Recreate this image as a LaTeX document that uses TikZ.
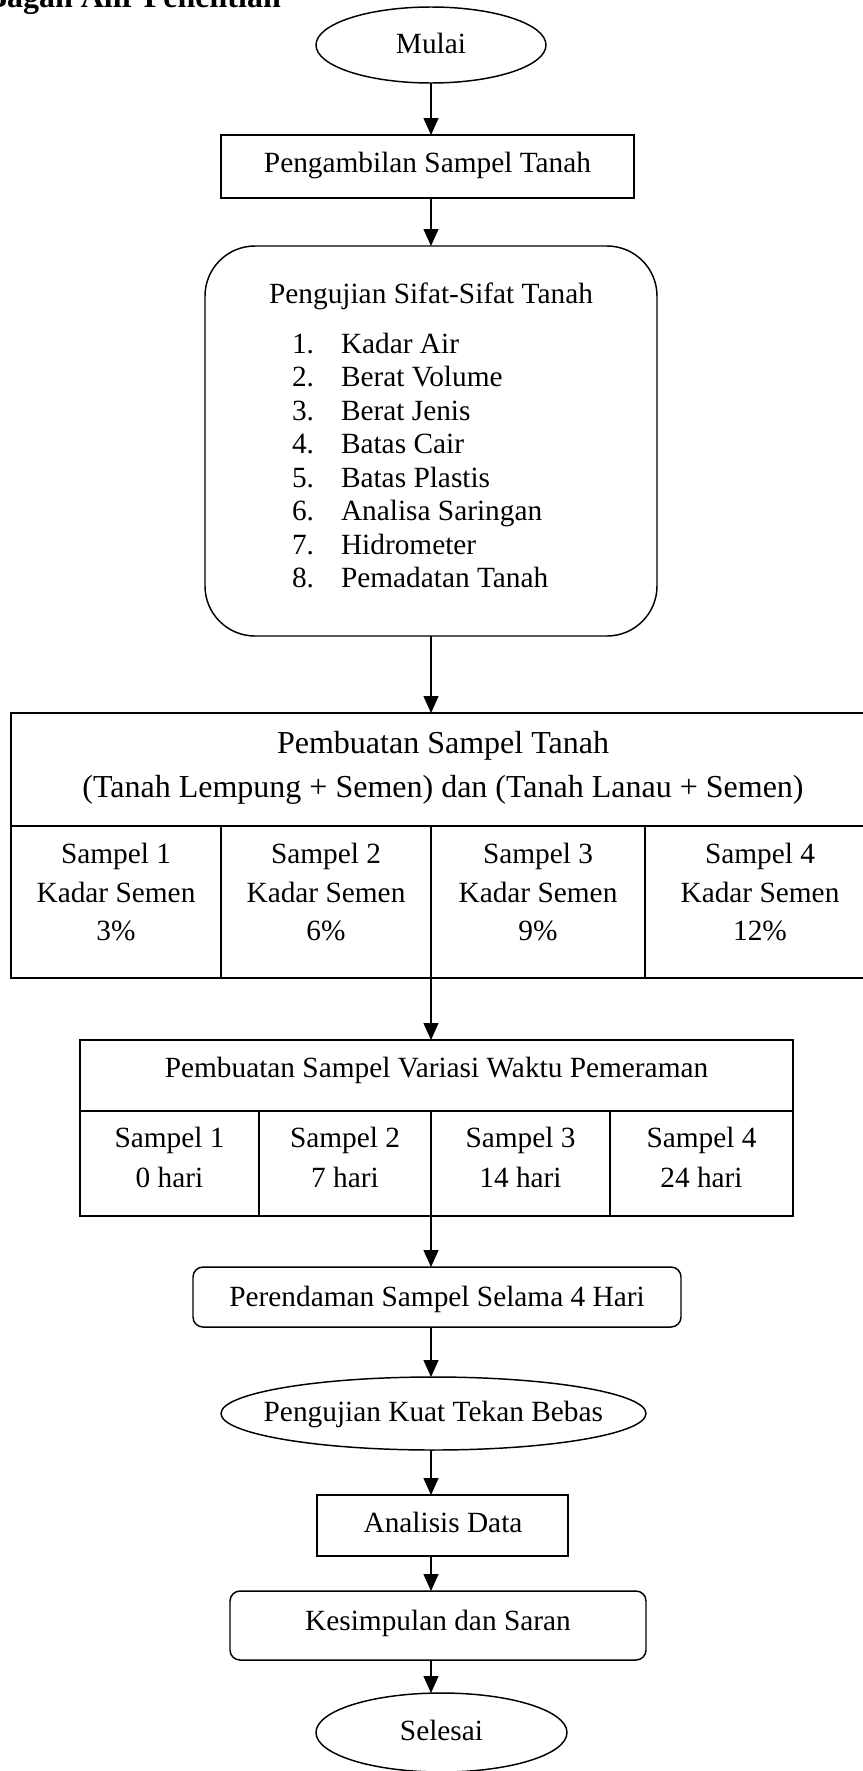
\documentclass[tikz,border=0pt]{standalone}
\usepackage{fontspec}
\setmainfont{Liberation Serif}
\usetikzlibrary{arrows.meta,shapes.geometric}
\begin{document}
\begin{tikzpicture}[x=0.75pt,y=-0.75pt,
  sz/.style 2 args={minimum width=#1*0.75pt,minimum height=#2*0.75pt},
  box/.style={draw,line width=1.1pt,inner sep=0pt,outer sep=0pt},
  rbox/.style={box,rounded corners=7.5pt},
  oval/.style={box,ellipse},
  txt/.style={inner sep=0pt,outer sep=0pt,anchor=base,font=\fontsize{22}{26}\selectfont},
  bigtxt/.style={txt,font=\fontsize{24}{28}\selectfont},
  listtxt/.style={txt,anchor=base west},
  arr/.style={line width=1pt,-{Triangle[length=12.75pt,width=11.25pt]}},
]
\useasboundingbox (0,0) rectangle (863,1771);
\coordinate (ax) at (431,0);

% title (partly cut off at the page edge)
\node[txt,anchor=base west,font=\fontsize{24}{28}\selectfont\bfseries] (title) at (-14.3,7) {Bagan Alir Penelitian};

% Mulai
\node[oval,sz={230}{76}] (mulai) at (431,45) {};
\node[txt] (tmulai) at (431,53.3) {Mulai};

% Pengambilan
\node[box,sz={413}{63}] (ambil) at (427.5,166.5) {};
\node[txt] (tambil) at (427.5,172.5) {Pengambilan Sampel Tanah};

% Pengujian sifat
\node[box,rounded corners=37.5pt,sz={452}{390}] (uji) at (431,441) {};
\node[txt] (tuji) at (431,303) {Pengujian Sifat-Sifat Tanah};
\foreach \t [count=\k from 0] in {Kadar Air,Berat Volume,Berat Jenis,Batas Cair,Batas Plastis,Analisa Saringan,Hidrometer,Pemadatan Tanah}{
  \pgfmathtruncatemacro{\nn}{\k+1}
  \node[listtxt] (num\k) at (292,{353.3+33.5*\k}) {\nn.};
  \node[listtxt] (item\k) at (341,{353.3+33.5*\k}) {\t};
}

% Table 1
\node[box,sz={864}{113}] (t1head) at (443,769.5) {};
\node[bigtxt] (t1l1) at (443,753) {Pembuatan Sampel Tanah};
\node[bigtxt] (t1l2) at (443,797) {(Tanah Lempung + Semen) dan (Tanah Lanau + Semen)};
\foreach \cx/\w/\n/\p in {116/210/1/3, 326/210/2/6, 538/214/3/9, 760/230/4/12}{
  \node[box,sz={\w}{152}] (t1c\n) at (\cx,902) {};
  \node[txt] (t1a\n) at (\cx,863) {Sampel \n};
  \node[txt] (t1b\n) at (\cx,902) {Kadar Semen};
  \node[txt] (t1p\n) at (\cx,940.5) {\p\%};
}

% Table 2
\node[box,sz={713}{71}] (t2head) at (436.5,1075.5) {};
\node[txt] (t2l1) at (436.5,1077) {Pembuatan Sampel Variasi Waktu Pemeraman};
\foreach \cx/\w/\n/\d in {169.5/179/1/0, 345/172/2/7, 520.5/179/3/14, 701.5/183/4/24}{
  \node[box,sz={\w}{105}] (t2c\n) at (\cx,1163.5) {};
  \node[txt] (t2a\n) at (\cx,1147.5) {Sampel \n};
  \node[txt] (t2b\n) at (\cx,1187) {\d{} hari};
}

% Perendaman
\node[rbox,sz={488}{60}] (rendam) at (437,1297) {};
\node[txt] (trendam) at (437,1306.5) {Perendaman Sampel Selama 4 Hari};

% Kuat tekan
\node[oval,sz={425}{73}] (kuat) at (433.5,1413.5) {};
\node[txt] (tkuat) at (433.3,1421.7) {Pengujian Kuat Tekan Bebas};

% Analisis
\node[box,sz={251}{61}] (anal) at (442.5,1525.5) {};
\node[txt] (tanal) at (443,1532.7) {Analisis Data};

% Kesimpulan
\node[rbox,sz={416}{69}] (kes) at (438,1625.5) {};
\node[txt] (tkes) at (438,1630) {Kesimpulan dan Saran};

% Selesai
\node[oval,sz={251}{79}] (sel) at (441.5,1732.5) {};
\node[txt] (tsel) at (441.5,1740.5) {Selesai};

% connectors
\draw[arr] (ax |- mulai.south) -- (ax |- ambil.north);
\draw[arr] (ax |- ambil.south) -- (ax |- uji.north);
\draw[arr] (ax |- uji.south) -- (ax |- t1head.north);
\draw[arr] (ax |- t1c3.south) -- (ax |- t2head.north);
\draw[arr] (ax |- t2c3.south) -- (ax |- rendam.north);
\draw[arr] (ax |- rendam.south) -- (ax |- kuat.north);
\draw[arr] (ax |- kuat.south) -- (ax |- anal.north);
\draw[arr] (ax |- anal.south) -- (ax |- kes.north);
\draw[arr] (ax |- kes.south) -- (ax |- sel.north);
\end{tikzpicture}
\end{document}
